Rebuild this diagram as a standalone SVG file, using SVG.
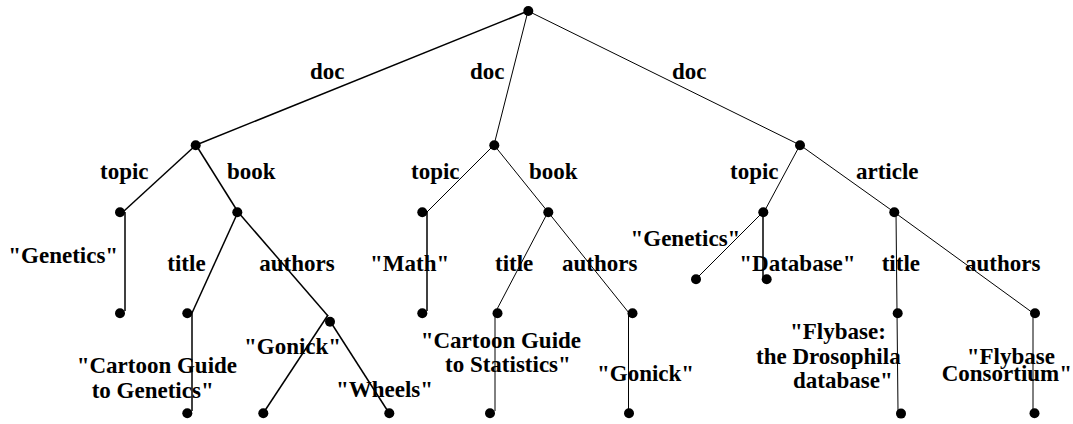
<svg xmlns="http://www.w3.org/2000/svg" width="1073" height="424" viewBox="0 0 1073 424">
<style>
.e{stroke:#000;stroke-width:1;fill:none}
.t{stroke-width:1.5}
.n{fill:#000}
text{font-family:"Liberation Serif","Times New Roman",serif;font-weight:bold;font-size:23px;fill:#000}
</style>
<rect width="1073" height="424" fill="#fff"/>
<g id="connectors">
<line class="e t" x1="528" y1="11" x2="196" y2="145"/>
<line class="e" x1="528" y1="11" x2="494" y2="145"/>
<line class="e" x1="528" y1="11" x2="800" y2="145"/>
<line class="e t" x1="196" y1="145" x2="124" y2="211"/>
<line class="e t" x1="196" y1="145" x2="238" y2="212"/>
<line class="e t" x1="125" y1="212" x2="125" y2="311"/>
<line class="e t" x1="238" y1="212" x2="192" y2="313"/>
<line class="e t" x1="192" y1="313" x2="192" y2="411"/>
<line class="e t" x1="238" y1="212" x2="328" y2="316"/>
<line class="e t" x1="328" y1="315" x2="264" y2="412"/>
<line class="e t" x1="330" y1="321" x2="389" y2="413"/>
<line class="e" x1="494" y1="145" x2="427" y2="212"/>
<line class="e" x1="494" y1="145" x2="548" y2="212"/>
<line class="e t" x1="427" y1="212" x2="427" y2="311"/>
<line class="e" x1="548" y1="212" x2="495" y2="313"/>
<line class="e" x1="495" y1="313" x2="495" y2="411"/>
<line class="e" x1="548" y1="212" x2="629" y2="313"/>
<line class="e" x1="628.5" y1="313" x2="628.5" y2="411"/>
<line class="e" x1="800" y1="145" x2="764" y2="212"/>
<line class="e" x1="763" y1="212" x2="696" y2="279"/>
<line class="e t" x1="763" y1="212" x2="763" y2="277"/>
<line class="e" x1="800" y1="145" x2="894" y2="212"/>
<line class="e" x1="896" y1="212" x2="898" y2="411"/>
<line class="e" x1="894" y1="212" x2="1033" y2="313"/>
<line class="e" x1="1033" y1="313" x2="1033" y2="411"/>
</g>
<g id="root"><circle class="n" cx="528.3" cy="11" r="5"/></g>
<g id="doc1"><circle class="n" cx="195.7" cy="145.3" r="5"/></g>
<g id="doc2"><circle class="n" cx="494.3" cy="145.3" r="5"/></g>
<g id="doc3"><circle class="n" cx="800" cy="145.3" r="5"/></g>
<g id="topic1"><circle class="n" cx="120" cy="212.3" r="5"/></g>
<g id="book1"><circle class="n" cx="237.3" cy="212.3" r="5"/></g>
<g id="topic2"><circle class="n" cx="422.3" cy="212.3" r="5"/></g>
<g id="book2"><circle class="n" cx="548.3" cy="212.3" r="5"/></g>
<g id="topic3"><circle class="n" cx="763.3" cy="212.3" r="5"/></g>
<g id="article3"><circle class="n" cx="894.3" cy="212.3" r="5"/></g>
<g id="genetics1"><circle class="n" cx="120" cy="313.3" r="5"/><text x="8.3" y="262.7">"Genetics"</text></g>
<g id="title1"><circle class="n" cx="187.3" cy="313.3" r="5"/></g>
<g id="authors1"><circle class="n" cx="330" cy="321.7" r="5"/></g>
<g id="cartoon1"><circle class="n" cx="187.3" cy="413.3" r="5"/><text x="76.7" y="372.7">"Cartoon Guide</text><text x="91.7" y="398.3">to Genetics"</text></g>
<g id="gonick1"><circle class="n" cx="263.3" cy="413.3" r="5"/><text x="244" y="353.5">"Gonick"</text></g>
<g id="wheels1"><circle class="n" cx="389.3" cy="413.3" r="5"/><text x="336" y="396.5">"Wheels"</text></g>
<g id="math2"><circle class="n" cx="422.3" cy="313.3" r="5"/><text x="370" y="270.7">"Math"</text></g>
<g id="title2"><circle class="n" cx="497.5" cy="313.3" r="5"/></g>
<g id="authors2"><circle class="n" cx="632.5" cy="313.3" r="5"/></g>
<g id="cartoon2"><circle class="n" cx="490" cy="413.3" r="5"/><text x="420.7" y="347.5">"Cartoon Guide</text><text x="445" y="371.7">to Statistics"</text></g>
<g id="gonick2"><circle class="n" cx="629" cy="413.3" r="5"/><text x="597" y="381">"Gonick"</text></g>
<g id="genetics3"><circle class="n" cx="696" cy="279.3" r="5"/><text x="630.5" y="245.8">"Genetics"</text></g>
<g id="database3"><circle class="n" cx="766.7" cy="279.3" r="5"/><text x="739.3" y="270.7">"Database"</text></g>
<g id="title3"><circle class="n" cx="897.7" cy="313.3" r="5"/></g>
<g id="authors3"><circle class="n" cx="1035" cy="313.3" r="5"/></g>
<g id="flybase3"><circle class="n" cx="901" cy="413.6" r="5"/><text x="790" y="339">"Flybase:</text><text x="756" y="364">the Drosophila</text><text x="793" y="387.5">database"</text></g>
<g id="consortium3"><circle class="n" cx="1034.5" cy="413.3" r="5"/><text x="966.7" y="364">"Flybase</text><text x="941.7" y="381">Consortium"</text></g>
<g id="edge-labels">
<text x="310" y="78.7">doc</text>
<text x="470" y="79">doc</text>
<text x="672" y="79">doc</text>
<text x="100" y="179">topic</text>
<text x="227" y="179">book</text>
<text x="411" y="179">topic</text>
<text x="529" y="179">book</text>
<text x="730" y="179">topic</text>
<text x="856" y="179">article</text>
<text x="167.3" y="270.7">title</text>
<text x="259.3" y="270.7">authors</text>
<text x="495" y="270.7">title</text>
<text x="562" y="270.7">authors</text>
<text x="881.7" y="270.7">title</text>
<text x="965" y="270.7">authors</text>
</g>
</svg>
